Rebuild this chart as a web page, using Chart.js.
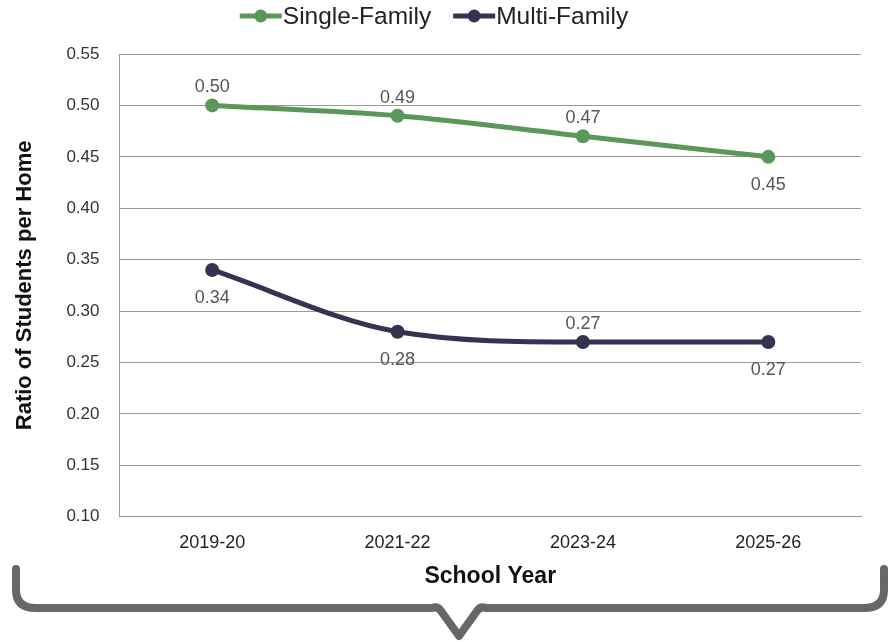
<!DOCTYPE html>
<html><head><meta charset="utf-8">
<script src="https://cdn.jsdelivr.net/npm/chart.js@4"></script>
<style>html,body{margin:0;padding:0;background:#fff}#w{width:893px;height:642px;position:relative}</style>
</head><body><div id="w"><canvas id="c" width="893" height="642"></canvas></div>
<script>
const categories = ["2019-20","2021-22","2023-24","2025-26"];
const singleFamily = [0.50,0.49,0.47,0.45];
const multiFamily = [0.34,0.28,0.27,0.27];
const singleLabelPos = ["above","above","above","below"];
const multiLabelPos = ["below","below","above","below"];
const GREEN = "#5a975a", NAVY = "#33344f";
const FONT = '"Liberation Sans", Arial, sans-serif';

const labelPlugin = {
  id:'vals',
  afterDatasetsDraw(chart){
    const ctx = chart.ctx;
    ctx.save();
    ctx.font = '18px ' + FONT;
    ctx.fillStyle = '#555';
    ctx.textAlign = 'center';
    ctx.textBaseline = 'middle';
    chart.data.datasets.forEach((ds,i)=>{
      const meta = chart.getDatasetMeta(i);
      meta.data.forEach((pt,j)=>{
        const pos = ds.labelPos[j];
        const y = pos==='above' ? pt.y-18 : pt.y+28;
        ctx.fillText(ds.data[j].toFixed(2), pt.x, y);
      });
    });
    ctx.restore();
  }
};

const legendPlugin = {
  id:'customLegend',
  afterDraw(chart){
    const ctx = chart.ctx;
    ctx.save();
    ctx.font = '24.5px ' + FONT;
    ctx.textBaseline = 'middle';
    const y = 16, icon = 42, gap = 1, between = 22;
    const items = chart.data.datasets.map(ds=>({t:ds.label,c:ds.borderColor,w:ctx.measureText(ds.label).width}));
    let total = items.reduce((s,it)=>s+icon+gap+it.w,0) + between*(items.length-1);
    let x = 434 - total/2;
    items.forEach(it=>{
      ctx.strokeStyle = it.c; ctx.lineWidth = 5;
      ctx.beginPath(); ctx.moveTo(x,y); ctx.lineTo(x+icon,y); ctx.stroke();
      ctx.fillStyle = it.c; ctx.beginPath(); ctx.arc(x+icon/2,y,6.5,0,Math.PI*2); ctx.fill();
      ctx.fillStyle = '#222'; ctx.textAlign='left';
      ctx.fillText(it.t, x+icon+gap, y+1);
      x += icon+gap+it.w+between;
    });
    ctx.restore();
  }
};

const bracePlugin = {
  id:'brace',
  afterDraw(chart){
    const ctx = chart.ctx;
    ctx.save();
    ctx.strokeStyle = '#676767'; ctx.lineWidth = 8; ctx.lineJoin='round'; ctx.lineCap='round';
    ctx.beginPath();
    ctx.moveTo(16,569);
    ctx.lineTo(16,590);
    ctx.quadraticCurveTo(16,608,36,608);
    ctx.lineTo(432,608);
    ctx.quadraticCurveTo(438,606,441,611);
    ctx.lineTo(459,636);
    ctx.lineTo(477,611);
    ctx.quadraticCurveTo(480,606,486,608);
    ctx.lineTo(864,608);
    ctx.quadraticCurveTo(884,608,884,590);
    ctx.lineTo(884,569);
    ctx.stroke();
    ctx.restore();
  }
};

new Chart(document.getElementById('c'),{
  type:'line',
  data:{labels:categories,datasets:[
    {label:'Single-Family',data:singleFamily,labelPos:singleLabelPos,borderColor:GREEN,backgroundColor:GREEN,borderWidth:5,pointRadius:7,pointHoverRadius:7,pointBackgroundColor:GREEN,pointBorderWidth:0,cubicInterpolationMode:'monotone'},
    {label:'Multi-Family',data:multiFamily,labelPos:multiLabelPos,borderColor:NAVY,backgroundColor:NAVY,borderWidth:5,pointRadius:7,pointHoverRadius:7,pointBackgroundColor:NAVY,pointBorderWidth:0,cubicInterpolationMode:'monotone'}
  ]},
  options:{
    responsive:false,animation:false,
    layout:{padding:{left:8,right:32,top:54,bottom:52}},
    plugins:{legend:{display:false},tooltip:{enabled:false}},
    scales:{
      x:{offset:true,grid:{display:false,drawTicks:false},border:{display:true,color:'#999',width:1},
        ticks:{color:'#222',padding:15,font:{family:FONT,size:18}},
        title:{display:true,text:'School Year',color:'#111',padding:{top:-6,bottom:0},font:{family:FONT,size:23,weight:'bold'}}},
      y:{min:0.10,max:0.55,ticks:{stepSize:0.05,color:'#333',padding:20,font:{family:FONT,size:17},callback:v=>v.toFixed(2)},
        grid:{color:'#999',lineWidth:1,drawTicks:false},border:{display:true,color:'#999'},
        title:{display:true,text:'Ratio of Students per Home',color:'#111',padding:{bottom:8},font:{family:FONT,size:22,weight:'bold'}}}
    }
  },
  plugins:[labelPlugin,legendPlugin,bracePlugin]
});
</script></body></html>
